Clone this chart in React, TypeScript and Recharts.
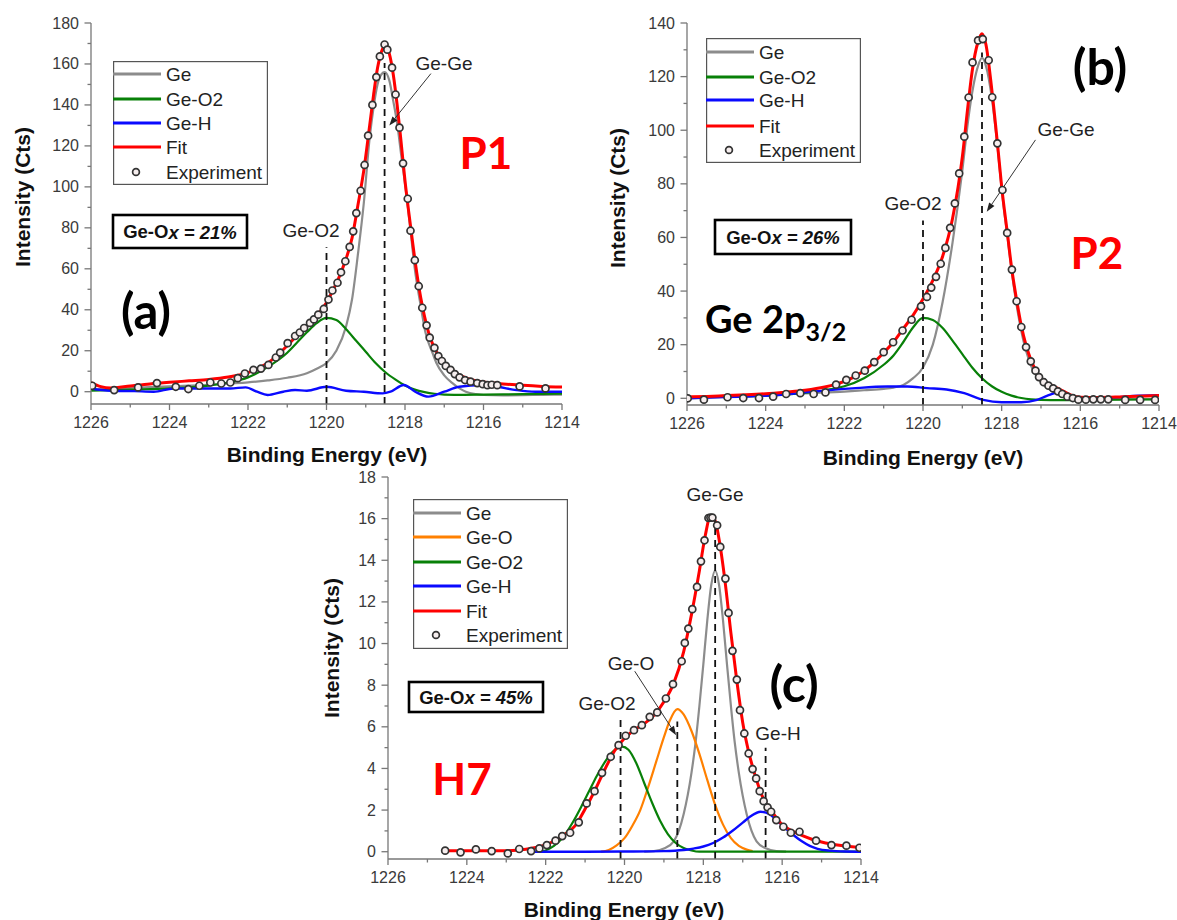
import React from "react";
import {
  ComposedChart,
  Line,
  Scatter,
  XAxis,
  YAxis,
  ReferenceLine,
  Legend,
} from "recharts";

type Pt = [number, number];

// x ticks (binding energy, eV) and y ticks for each panel
const energyTicks = [1226, 1225, 1224, 1223, 1222, 1221, 1220, 1219, 1218, 1217, 1216, 1215, 1214];
const aYTicks = [0, 10, 20, 30, 40, 50, 60, 70, 80, 90, 100, 110, 120, 130, 140, 150, 160, 170, 180];
const bYTicks = [0, 10, 20, 30, 40, 50, 60, 70, 80, 90, 100, 110, 120, 130, 140];
const cYTicks = [0, 1, 2, 3, 4, 5, 6, 7, 8, 9, 10, 11, 12, 13, 14, 15, 16, 17, 18];

// ---- panel (a) : P1 ----
const aExp: Pt[] = [
  [1225.97, 2.9], [1225.41, 0.8], [1224.8, 2.1], [1224.32, 4.2], [1223.84, 2.4], [1223.52, 1.3],
  [1223.24, 2.9], [1222.96, 4.5], [1222.68, 4.0], [1222.45, 4.5], [1222.26, 6.6], [1222.08, 8.9],
  [1221.86, 10.7], [1221.67, 11.3], [1221.48, 13.1], [1221.29, 16.7], [1221.18, 19.1], [1220.99, 23.7],
  [1220.8, 27.2], [1220.68, 28.9], [1220.57, 31.1], [1220.42, 33.6], [1220.32, 35.3], [1220.21, 37.6],
  [1220.07, 40.4], [1219.95, 45.0], [1219.85, 49.4], [1219.72, 53.2], [1219.63, 58.3], [1219.52, 63.7],
  [1219.41, 70.7], [1219.32, 78.3], [1219.24, 87.2], [1219.13, 98.1], [1219.03, 110.7], [1218.94, 125.0],
  [1218.83, 140.0], [1218.73, 153.6], [1218.64, 163.7], [1218.52, 169.5], [1218.45, 167.0], [1218.33, 158.2],
  [1218.24, 145.1], [1218.14, 128.9], [1218.05, 111.5], [1217.93, 94.2], [1217.86, 78.6], [1217.75, 64.2],
  [1217.65, 51.5], [1217.56, 41.0], [1217.45, 32.4], [1217.37, 26.4], [1217.25, 21.4], [1217.15, 17.4],
  [1217.06, 15.0], [1216.96, 12.6], [1216.84, 10.7], [1216.73, 8.6], [1216.61, 7.0], [1216.47, 5.7],
  [1216.33, 4.9], [1216.16, 4.2], [1216.02, 3.7], [1215.9, 3.2], [1215.79, 3.4], [1215.65, 3.2],
  [1215.08, 2.6], [1214.42, 1.6],
];
const aFit: Pt[] = [
  [1226, 4.5], [1225.75, 2.5], [1225.5, 1.8], [1225, 2.8], [1224.5, 3.8], [1224, 4.6], [1223.5, 5.3],
  [1223, 6.0], [1222.5, 7.2], [1222, 9.3], [1221.75, 11.3], [1221.5, 14.0], [1221.25, 17.8], [1221, 22.5],
  [1220.75, 27.5], [1220.5, 32.0], [1220.25, 37.0], [1220, 43.5], [1219.85, 49], [1219.7, 55], [1219.5, 65],
  [1219.35, 75], [1219.2, 91], [1219.05, 108], [1218.9, 130], [1218.8, 145], [1218.7, 158], [1218.6, 166],
  [1218.5, 169], [1218.4, 165], [1218.3, 155], [1218.2, 140], [1218.1, 122], [1218, 103], [1217.9, 87],
  [1217.8, 72], [1217.7, 58], [1217.6, 46], [1217.5, 36.5], [1217.4, 29], [1217.3, 23.5], [1217.2, 19.5],
  [1217.1, 16.3], [1217, 14], [1216.8, 10.5], [1216.6, 8], [1216.4, 6.4], [1216.2, 5.4], [1216, 4.8],
  [1215.75, 4.2], [1215.5, 3.8], [1215, 3.1], [1214.5, 2.6], [1214, 2.3],
];
const aGe: Pt[] = [
  [1226, 1.0], [1225, 1.8], [1224, 2.6], [1223, 3.4], [1222.5, 4.0], [1222, 4.6], [1221.5, 5.5], [1221, 6.8],
  [1220.5, 9.0], [1220.25, 11.2], [1220, 14], [1219.75, 20], [1219.5, 32], [1219.35, 45], [1219.2, 67],
  [1219.05, 92], [1218.9, 124], [1218.8, 139], [1218.7, 150], [1218.6, 155], [1218.52, 156], [1218.4, 152],
  [1218.3, 142], [1218.2, 131], [1218.1, 116], [1217.95, 94], [1217.85, 77], [1217.75, 60], [1217.6, 42],
  [1217.48, 29], [1217.3, 19], [1217.2, 14], [1217, 8], [1216.8, 4.3], [1216.6, 1.5], [1216.45, 0],
  [1216.2, -1.2], [1216, -1.6], [1215.5, -1.8], [1215, -1.7], [1214.5, -1.5], [1214, -1.4],
];
const aGeO2: Pt[] = [
  [1226, 0.5], [1225, 1.0], [1224, 1.6], [1223, 3.0], [1222.5, 4.5], [1222, 7.0], [1221.5, 12], [1221, 19],
  [1220.75, 24], [1220.5, 29], [1220.25, 33.5], [1220, 36], [1219.75, 35], [1219.5, 30.5], [1219.25, 25],
  [1219, 19.5], [1218.75, 14], [1218.5, 9.5], [1218.25, 6], [1218, 3], [1217.75, 1], [1217.5, -0.2],
  [1217.25, -1], [1217, -1.4], [1216.5, -1.5], [1216, -1.4], [1215, -1.2], [1214, -1.0],
];
const aGeH: Pt[] = [
  [1226, 1.6], [1225.5, 0.5], [1224.9, 0.3], [1224.4, 0], [1223.9, 1.6], [1223.4, 1.6], [1222.9, 1.6],
  [1222.45, 1.6], [1222.06, 2.1], [1221.77, 0], [1221.5, -1.6], [1221.1, 0], [1220.8, 0.8], [1220.5, 0.5],
  [1220, 2.4], [1219.5, 0.5], [1219.05, 0], [1218.57, -0.8], [1218.37, 0], [1218.03, 3.3], [1217.74, 0],
  [1217.4, -2.4], [1217, 0], [1216.62, 2.4], [1216.04, 3.3], [1215.65, 2.4], [1215.16, 0.8], [1214.68, 0],
  [1214, 0],
];

// ---- panel (b) : P2 ----
const bExp: Pt[] = [
  [1225.98, 0], [1225.57, -0.5], [1224.97, 0.4], [1224.57, 0.1], [1224.17, 0.1], [1223.81, 0.6],
  [1223.48, 1.6], [1223.12, 1.9], [1222.78, 1.6], [1222.48, 2.2], [1222.21, 5.1], [1221.95, 6.9],
  [1221.71, 8.5], [1221.48, 10.3], [1221.24, 13.5], [1221.0, 17.2], [1220.76, 20.9], [1220.52, 25.3],
  [1220.29, 29.3], [1220.05, 34.3], [1219.9, 37.8], [1219.79, 41.3], [1219.67, 45.3], [1219.55, 50.2],
  [1219.43, 56.1], [1219.31, 63.6], [1219.19, 72.7], [1219.08, 83.9], [1218.95, 97.6], [1218.84, 112.2],
  [1218.74, 125.3], [1218.6, 133.5], [1218.48, 134.0], [1218.33, 126.1], [1218.24, 112.3], [1218.11, 95.1],
  [1217.98, 77.7], [1217.86, 61.7], [1217.74, 48.0], [1217.62, 36.2], [1217.5, 26.6], [1217.38, 19.1],
  [1217.26, 13.8], [1217.14, 10.3], [1217.05, 7.9], [1216.93, 6.0], [1216.81, 4.7], [1216.69, 3.7],
  [1216.57, 2.6], [1216.46, 1.6], [1216.33, 0.6], [1216.19, 0.1], [1216.05, -0.5], [1215.86, -0.5],
  [1215.67, -0.4], [1215.48, -0.4], [1215.29, -0.4], [1214.86, -0.6], [1214.48, -0.6], [1214.1, -0.6],
];
const bFit: Pt[] = [
  [1226, 0.5], [1225.5, 0.7], [1225, 1.0], [1224.5, 1.3], [1224, 1.7], [1223.5, 2.3], [1223, 3.0],
  [1222.5, 4.2], [1222, 6.3], [1221.75, 8.0], [1221.5, 10.3], [1221.25, 13.3], [1221, 17], [1220.75, 21],
  [1220.5, 26], [1220.25, 31], [1220, 37], [1219.75, 44], [1219.5, 53], [1219.25, 67], [1219, 90],
  [1218.85, 110], [1218.75, 122], [1218.6, 133], [1218.5, 136], [1218.4, 132], [1218.25, 115], [1218.1, 94],
  [1218, 79], [1217.85, 61], [1217.75, 49], [1217.6, 35], [1217.5, 27], [1217.25, 14], [1217, 7.5],
  [1216.75, 5.0], [1216.5, 3.2], [1216.25, 1.3], [1216, 0.4], [1215.5, 0.3], [1215, 0.5], [1214.5, 0.8],
  [1214, 1.0],
];
const bGe: Pt[] = [
  [1226, 0], [1225, 0.5], [1224, 1.0], [1223, 1.8], [1222, 2.5], [1221.5, 3.0], [1221, 3.5], [1220.75, 4.0],
  [1220.5, 5.0], [1220.25, 7.5], [1220, 11.5], [1219.75, 20], [1219.5, 36], [1219.25, 58], [1219, 85],
  [1218.85, 104], [1218.75, 114], [1218.6, 124], [1218.5, 127], [1218.4, 124], [1218.25, 112], [1218.1, 93],
  [1218, 78], [1217.85, 60], [1217.75, 48], [1217.6, 33], [1217.5, 25], [1217.25, 12], [1217, 6],
  [1216.75, 3], [1216.5, 1.3], [1216.25, 0.5], [1216, 0], [1215, -0.3], [1214, -0.3],
];
const bGeO2: Pt[] = [
  [1226, 0.3], [1225, 0.6], [1224, 1.0], [1223, 2.0], [1222.5, 3.0], [1222, 4.5], [1221.5, 7.5], [1221, 12.5],
  [1220.75, 16], [1220.5, 21], [1220.25, 26.5], [1220, 30], [1219.75, 29.2], [1219.5, 26.2], [1219.25, 21.5],
  [1219, 16.5], [1218.75, 11.5], [1218.5, 7.5], [1218.25, 4.5], [1218, 2.4], [1217.75, 1.0], [1217.5, 0.1],
  [1217.25, -0.4], [1217, -0.6], [1216.5, -0.7], [1216, -0.6], [1215, -0.5], [1214, -0.4],
];
const bGeH: Pt[] = [
  [1226, 0], [1225.5, 0.3], [1224.7, 0.6], [1223.7, 1.2], [1222.8, 2.5], [1221.8, 3.7], [1220.9, 4.4],
  [1220.4, 4.4], [1219.9, 3.8], [1219.4, 3.3], [1218.95, 1.9], [1218.47, -0.6], [1218, -1.5], [1217.5, -1.5],
  [1217.1, -0.6], [1216.85, 0.9], [1216.56, 2.1], [1216.28, 0.9], [1215.9, 0], [1215.1, 0.4], [1214.65, 0.9],
  [1214, 1.2],
];

// ---- panel (c) : H7 ----
const cExp: Pt[] = [
  [1224.55, 0.05], [1224.16, -0.03], [1223.77, 0.11], [1223.37, 0.03], [1222.96, -0.08], [1222.67, 0.13],
  [1222.37, 0.03], [1222.16, 0.16], [1221.97, 0.32], [1221.75, 0.53], [1221.58, 0.75], [1221.38, 0.91],
  [1221.16, 1.41], [1220.96, 2.32], [1220.76, 2.91], [1220.57, 3.79], [1220.35, 4.56], [1220.15, 5.12],
  [1219.97, 5.57], [1219.76, 5.84], [1219.56, 6.08], [1219.36, 6.48], [1219.17, 6.69], [1218.95, 7.36],
  [1218.77, 8.05], [1218.55, 9.15], [1218.47, 10.03], [1218.38, 10.72], [1218.28, 11.65], [1218.16, 12.72],
  [1218.06, 13.95], [1217.97, 14.96], [1217.87, 16.03], [1217.82, 16.05], [1217.77, 16.05], [1217.65, 15.68],
  [1217.57, 14.64], [1217.44, 13.12], [1217.36, 11.47], [1217.26, 9.65], [1217.15, 8.27], [1217.07, 6.8],
  [1216.96, 5.68], [1216.85, 4.72], [1216.75, 3.97], [1216.66, 3.52], [1216.57, 2.91], [1216.47, 2.43],
  [1216.37, 2.13], [1216.28, 1.92], [1216.15, 1.52], [1215.97, 1.2], [1215.78, 0.91], [1215.56, 0.96],
  [1215.14, 0.53], [1214.75, 0.32], [1214.37, 0.29], [1214.04, 0.19],
];
const cFit: Pt[] = [
  [1224.6, 0.05], [1224, 0.05], [1223, 0.05], [1222.5, 0.12], [1222.25, 0.2], [1222, 0.33], [1221.75, 0.55],
  [1221.5, 0.85], [1221.25, 1.25], [1221, 2.05], [1220.75, 2.95], [1220.5, 3.95], [1220.25, 4.85], [1220, 5.45],
  [1219.75, 5.85], [1219.5, 6.15], [1219.25, 6.55], [1219, 7.2], [1218.75, 8.1], [1218.5, 9.6], [1218.3, 11.4],
  [1218.1, 13.5], [1217.95, 15.2], [1217.82, 16.1], [1217.7, 15.9], [1217.6, 15.0], [1217.45, 13.0],
  [1217.3, 10.5], [1217.15, 8.2], [1217, 6.2], [1216.85, 4.8], [1216.7, 3.75], [1216.5, 2.65], [1216.25, 1.9],
  [1216, 1.3], [1215.75, 1.0], [1215.5, 0.78], [1215.25, 0.6], [1215, 0.47], [1214.5, 0.3], [1214, 0.2],
];
const cGe: Pt[] = [
  [1219.5, 0], [1219.25, 0.03], [1219, 0.15], [1218.75, 0.5], [1218.5, 1.8], [1218.3, 3.8], [1218.2, 5.2],
  [1218.1, 7.0], [1218, 9.0], [1217.9, 11.1], [1217.8, 12.8], [1217.7, 13.5], [1217.6, 12.8], [1217.5, 11.1],
  [1217.4, 9.0], [1217.3, 7.0], [1217.2, 5.2], [1217.1, 3.8], [1216.9, 1.8], [1216.65, 0.5], [1216.4, 0.15],
  [1216.15, 0.03], [1215.9, 0],
];
const cGeO: Pt[] = [
  [1220.6, 0], [1220.4, 0.08], [1220.2, 0.3], [1220, 0.65], [1219.8, 1.25], [1219.6, 2.0], [1219.4, 3.1],
  [1219.2, 4.3], [1219, 5.5], [1218.85, 6.3], [1218.66, 6.85], [1218.5, 6.6], [1218.3, 5.8], [1218.1, 4.7],
  [1217.9, 3.45], [1217.7, 2.25], [1217.5, 1.3], [1217.3, 0.65], [1217.1, 0.28], [1216.9, 0.1], [1216.75, 0.03],
];
const cGeO2: Pt[] = [
  [1222.1, 0], [1221.9, 0.15], [1221.7, 0.42], [1221.5, 0.85], [1221.3, 1.45], [1221.1, 2.15], [1220.9, 2.9],
  [1220.7, 3.65], [1220.5, 4.3], [1220.3, 4.8], [1220.06, 5.05], [1219.9, 4.9], [1219.7, 4.25], [1219.5, 3.3],
  [1219.3, 2.35], [1219.1, 1.5], [1218.9, 0.85], [1218.7, 0.42], [1218.5, 0.18], [1218.3, 0.06], [1218.1, 0],
  [1216, 0], [1214, 0],
];
const cGeH: Pt[] = [
  [1222.4, 0], [1221, 0], [1220, 0.01], [1219, 0.03], [1218.5, 0.08], [1218.25, 0.15], [1218, 0.25],
  [1217.75, 0.42], [1217.5, 0.68], [1217.25, 1.02], [1217, 1.4], [1216.8, 1.7], [1216.55, 1.92], [1216.3, 1.78],
  [1216.1, 1.45], [1215.9, 1.1], [1215.7, 0.78], [1215.5, 0.5], [1215.3, 0.28], [1215.1, 0.14], [1214.8, 0.05],
  [1214.4, 0.01], [1214, 0],
];

// dashed peak markers: [energy, top of dash]
const aGuides: Pt[] = [[1220, 70.5], [1218.52, 160.5]];
const bGuides: Pt[] = [[1220, 66.3], [1218.5, 129]];
const cGuides: Pt[] = [[1220.1, 6.5], [1218.66, 6.25], [1217.7, 16.0], [1216.42, 5.0]];
// annotation arrows: [from, to]
const aArrows: Pt[][] = [[[1217.34, 155.3], [1218.4, 130]]];
const bArrows: Pt[][] = [[[1217.14, 96.4], [1218.38, 69.6]]];
const cArrows: Pt[][] = [[[1219.74, 8.67], [1218.69, 5.6]]];

const SANS = "'Liberation Sans', Arial, sans-serif";
const BIG = "Lato, 'Open Sans', sans-serif";
const AXIS = "#777";
const TXT = "#3a3a3a";
const C = { ge: "#8c8c8c", geo: "#ff8000", geo2: "#088008", geh: "#0a0aff", fit: "#ff0000" };

const toPts = (a: Pt[]) => a.map(([x, y]) => ({ x, y }));
const isStep = (v: number, s: number) => Math.abs(v / s - Math.round(v / s)) < 1e-6;

const BottomTick = (p: any) => {
  const v = p.payload.value;
  const major = isStep(v, 2);
  return (
    <g>
      <line x1={p.x} x2={p.x} y1={p.y} y2={p.y + (major ? 6 : 3.5)} stroke={AXIS} strokeWidth={1.3} />
      {major && (
        <text x={p.x} y={p.y + 24} textAnchor="middle" fontSize={16} fill={TXT} fontFamily={SANS}>
          {v}
        </text>
      )}
    </g>
  );
};
const TopTick = (p: any) => {
  const major = isStep(p.payload.value, 2);
  return <line x1={p.x} x2={p.x} y1={p.y} y2={p.y + (major ? 6 : 3.5)} stroke={AXIS} strokeWidth={1.3} />;
};
const makeLeftTick = (step: number) => (p: any) => {
  const v = p.payload.value;
  const major = isStep(v, step);
  return (
    <g>
      <line x1={p.x} x2={p.x - (major ? 6.5 : 3.5)} y1={p.y} y2={p.y} stroke={AXIS} strokeWidth={1.3} />
      {major && (
        <text x={p.x - 12} y={p.y + 5.5} textAnchor="end" fontSize={16} fill={TXT} fontFamily={SANS}>
          {v}
        </text>
      )}
    </g>
  );
};
const makeRightTick = (step: number) => (p: any) => {
  const major = isStep(p.payload.value, step);
  return <line x1={p.x} x2={p.x - (major ? 6 : 3.5)} y1={p.y} y2={p.y} stroke={AXIS} strokeWidth={1.3} />;
};

const ArrowShape = (p: any) => {
  const { x1, y1, x2, y2 } = p;
  const ang = Math.atan2(y2 - y1, x2 - x1);
  const L = 9;
  const W = 3.2;
  const bx = x2 - L * Math.cos(ang);
  const by = y2 - L * Math.sin(ang);
  const s = Math.sin(ang);
  const c = Math.cos(ang);
  const pts = `${x2},${y2} ${bx - W * s},${by + W * c} ${bx + W * s},${by - W * c}`;
  return (
    <g>
      <line x1={x1} y1={y1} x2={bx} y2={by} stroke="#333" strokeWidth={1} />
      <polygon points={pts} fill="#222" />
    </g>
  );
};

type Series = { name: string; data: Pt[]; color: string; width: number };

const LegendBox = ({ items, w, h, rows }: { items: Series[]; w: number; h: number; rows: number[] }) => (
  <svg width={w} height={h} style={{ display: "block" }}>
    <rect x={0.6} y={0.6} width={w - 1.2} height={h - 1.2} fill="#fff" stroke="#555" strokeWidth={1.2} />
    {items.map((s, i) => (
      <g key={s.name}>
        <line x1={0} x2={48} y1={rows[i]} y2={rows[i]} stroke={s.color} strokeWidth={3} />
        <text x={53} y={rows[i] + 6.5} fontSize={19} fill="#222" fontFamily={SANS}>
          {s.name}
        </text>
      </g>
    ))}
    <circle cx={23} cy={rows[items.length]} r={3.4} fill="#f6eeee" stroke="#333" strokeWidth={1.7} />
    <text x={53} y={rows[items.length] + 6.5} fontSize={19} fill="#222" fontFamily={SANS}>
      Experiment
    </text>
  </svg>
);

type PanelCfg = {
  left: number;
  top: number;
  w: number;
  h: number;
  margin: { top: number; right: number; bottom: number; left: number };
  yDomain: [number, number];
  yTicks: number[];
  yStep: number;
  lines: Series[];
  exp: Pt[];
  guides: Pt[];
  arrows: Pt[][];
  legend: { x: number; y: number; w: number; h: number; rows: number[] };
};

function Panel({ cfg }: { cfg: PanelCfg }) {
  const { w, h, margin, yDomain, yTicks, yStep, lines, exp, guides, arrows, legend } = cfg;
  const items = lines;
  return (
    <div style={{ position: "absolute", left: cfg.left, top: cfg.top, width: w, height: h }}>
      <ComposedChart width={w} height={h} margin={margin}>
        <XAxis
          dataKey="x"
          type="number"
          domain={[1214, 1226]}
          reversed
          allowDataOverflow
          ticks={energyTicks}
          interval={0}
          height={40}
          tickSize={0}
          tickMargin={0}
          tickLine={false}
          axisLine={{ stroke: AXIS, strokeWidth: 1.3 }}
          tick={BottomTick}
        />
        <XAxis
          xAxisId="top"
          orientation="top"
          mirror
          dataKey="x"
          type="number"
          domain={[1214, 1226]}
          reversed
          allowDataOverflow
          ticks={energyTicks}
          interval={0}
          height={0}
          tickSize={0}
          tickMargin={0}
          tickLine={false}
          axisLine={{ stroke: AXIS, strokeWidth: 1.3 }}
          tick={TopTick}
        />
        <YAxis
          dataKey="y"
          type="number"
          domain={yDomain}
          allowDataOverflow
          ticks={yTicks}
          interval={0}
          width={60}
          tickSize={0}
          tickMargin={0}
          tickLine={false}
          axisLine={{ stroke: AXIS, strokeWidth: 1.3 }}
          tick={makeLeftTick(yStep)}
        />
        <YAxis
          yAxisId="right"
          orientation="right"
          mirror
          dataKey="y"
          type="number"
          domain={yDomain}
          allowDataOverflow
          ticks={yTicks}
          interval={0}
          width={0}
          tickSize={0}
          tickMargin={0}
          tickLine={false}
          axisLine={{ stroke: AXIS, strokeWidth: 1.3 }}
          tick={makeRightTick(yStep)}
        />
        {lines.map((s) => (
          <Line
            key={s.name}
            name={s.name}
            data={toPts(s.data)}
            dataKey="y"
            type="monotone"
            stroke={s.color}
            strokeWidth={s.width}
            dot={false}
            activeDot={false}
            isAnimationActive={false}
          />
        ))}
        {guides.map(([x, y]) => (
          <ReferenceLine
            key={`g${x}`}
            segment={[{ x, y: yDomain[0] }, { x, y }]}
            stroke="#111"
            strokeWidth={1.8}
            strokeDasharray="7 5"
          />
        ))}
        {arrows.map(([a, b]) => (
          <ReferenceLine
            key={`a${a[0]}`}
            segment={[{ x: a[0], y: a[1] }, { x: b[0], y: b[1] }]}
            shape={ArrowShape}
          />
        ))}
        <Scatter
          name="Experiment"
          data={toPts(exp)}
          dataKey="y"
          isAnimationActive={false}
          shape={(p: any) => (
            <circle cx={p.cx} cy={p.cy} r={3.5} fill="#f6eeee" stroke="#333" strokeWidth={1.7} />
          )}
        />
        <Legend
          layout="vertical"
          align="center"
          verticalAlign="middle"
          wrapperStyle={{ left: legend.x, top: legend.y, width: legend.w, height: legend.h }}
          content={() => <LegendBox items={items} w={legend.w} h={legend.h} rows={legend.rows} />}
        />
      </ComposedChart>
    </div>
  );
}

const panelA: PanelCfg = {
  left: 0,
  top: 0,
  w: 600,
  h: 470,
  margin: { top: 23, right: 38, bottom: 26, left: 31 },
  yDomain: [-6, 180],
  yTicks: aYTicks,
  yStep: 20,
  lines: [
    { name: "Ge", data: aGe, color: C.ge, width: 2.2 },
    { name: "Ge-O2", data: aGeO2, color: C.geo2, width: 2.2 },
    { name: "Ge-H", data: aGeH, color: C.geh, width: 2.4 },
    { name: "Fit", data: aFit, color: C.fit, width: 3 },
  ],
  exp: aExp,
  guides: aGuides,
  arrows: aArrows,
  legend: { x: 113, y: 61, w: 155, h: 124, rows: [13, 38, 62, 86, 111] },
};

const panelB: PanelCfg = {
  left: 590,
  top: 0,
  w: 587,
  h: 470,
  margin: { top: 23, right: 18, bottom: 25, left: 37 },
  yDomain: [-2.5, 140],
  yTicks: bYTicks,
  yStep: 20,
  lines: [
    { name: "Ge", data: bGe, color: C.ge, width: 2.2 },
    { name: "Ge-O2", data: bGeO2, color: C.geo2, width: 2.2 },
    { name: "Ge-H", data: bGeH, color: C.geh, width: 2.4 },
    { name: "Fit", data: bFit, color: C.fit, width: 3 },
  ],
  exp: bExp,
  guides: bGuides,
  arrows: bArrows,
  legend: { x: 116, y: 38, w: 155, h: 125, rows: [14, 39, 62, 88, 112] },
};

const panelC: PanelCfg = {
  left: 300,
  top: 460,
  w: 600,
  h: 460,
  margin: { top: 17, right: 39, bottom: 21, left: 28 },
  yDomain: [-0.35, 18],
  yTicks: cYTicks,
  yStep: 2,
  lines: [
    { name: "Ge", data: cGe, color: C.ge, width: 2.2 },
    { name: "Ge-O", data: cGeO, color: C.geo, width: 2.2 },
    { name: "Ge-O2", data: cGeO2, color: C.geo2, width: 2.2 },
    { name: "Ge-H", data: cGeH, color: C.geh, width: 2.4 },
    { name: "Fit", data: cFit, color: C.fit, width: 3 },
  ],
  exp: cExp,
  guides: cGuides,
  arrows: cArrows,
  legend: { x: 113, y: 39, w: 155, h: 150, rows: [14, 38, 63, 87, 112, 136] },
};

const Txt = (p: {
  x: number;
  y: number;
  s: number;
  t: string;
  bold?: boolean;
  fill?: string;
  font?: string;
  anchor?: "start" | "middle" | "end";
  rot?: boolean;
}) => (
  <text
    x={p.x}
    y={p.y}
    fontSize={p.s}
    fontWeight={p.bold ? 700 : 400}
    fill={p.fill ?? "#222"}
    fontFamily={p.font ?? SANS}
    textAnchor={p.anchor ?? "middle"}
    dominantBaseline="central"
    transform={p.rot ? `rotate(-90 ${p.x} ${p.y})` : undefined}
  >
    {p.t}
  </text>
);

const OxBox = ({ x, y, w, h, pct }: { x: number; y: number; w: number; h: number; pct: string }) => (
  <g>
    <rect x={x} y={y} width={w} height={h} fill="#fff" stroke="#000" strokeWidth={2.6} />
    <text
      x={x + w / 2}
      y={y + h / 2}
      fontSize={18.5}
      fontWeight={700}
      fill="#111"
      fontFamily={SANS}
      textAnchor="middle"
      dominantBaseline="central"
    >
      Ge-O<tspan fontStyle="italic">x = {pct}</tspan>
    </text>
  </g>
);

export default function App() {
  return (
    <div
      style={{
        position: "absolute",
        left: 0,
        top: 0,
        width: 1177,
        height: 920,
        background: "#fff",
        fontFamily: SANS,
        overflow: "hidden",
      }}
    >
      <Panel cfg={panelA} />
      <Panel cfg={panelB} />
      <Panel cfg={panelC} />
      <svg
        width={1177}
        height={920}
        style={{ position: "absolute", left: 0, top: 0, pointerEvents: "none" }}
      >
        {/* axis titles */}
        <Txt x={22} y={197} s={21} bold rot t="Intensity (Cts)" fill="#111" />
        <Txt x={327} y={454} s={21} bold t="Binding Energy (eV)" fill="#111" />
        <Txt x={617} y={198} s={21} bold rot t="Intensity (Cts)" fill="#111" />
        <Txt x={923} y={457} s={21} bold t="Binding Energy (eV)" fill="#111" />
        <Txt x={331} y={648} s={21} bold rot t="Intensity (Cts)" fill="#111" />
        <Txt x={624} y={909} s={21} bold t="Binding Energy (eV)" fill="#111" />

        {/* panel (a) */}
        <OxBox x={113} y={215} w={134} h={33} pct="21%" />
        <Txt x={311} y={230} s={19} t="Ge-O2" />
        <Txt x={444} y={63} s={19} t="Ge-Ge" />
        <Txt x={486} y={152} s={44} bold t="P1" fill="#ff0000" font={BIG} />
        <Txt x={146} y={310} s={49} bold t="(a)" fill="#000" font={BIG} />

        {/* panel (b) */}
        <OxBox x={715} y={220} w={136} h={34} pct="26%" />
        <Txt x={913} y={203} s={19} t="Ge-O2" />
        <Txt x={1066} y={129} s={19} t="Ge-Ge" />
        <Txt x={1100} y={66} s={50} bold t="(b)" fill="#000" font={BIG} />
        <Txt x={1097} y={252} s={44} bold t="P2" fill="#ff0000" font={BIG} />
        <text x={705} y={333} fontSize={38} fontWeight={700} fill="#000" fontFamily={BIG}>
          Ge 2p<tspan fontSize={25} dy={8}>3/2</tspan>
        </text>

        {/* panel (c) */}
        <OxBox x={409} y={682} w={134} h={30} pct="45%" />
        <Txt x={715} y={494} s={19} t="Ge-Ge" />
        <Txt x={631} y={663} s={19} t="Ge-O" />
        <Txt x={607} y={703} s={19} t="Ge-O2" />
        <Txt x={778} y={733} s={19} t="Ge-H" />
        <Txt x={794} y={683} s={50} bold t="(c)" fill="#000" font={BIG} />
        <Txt x={462} y={778} s={44} bold t="H7" fill="#ff0000" font={BIG} />
      </svg>
    </div>
  );
}
